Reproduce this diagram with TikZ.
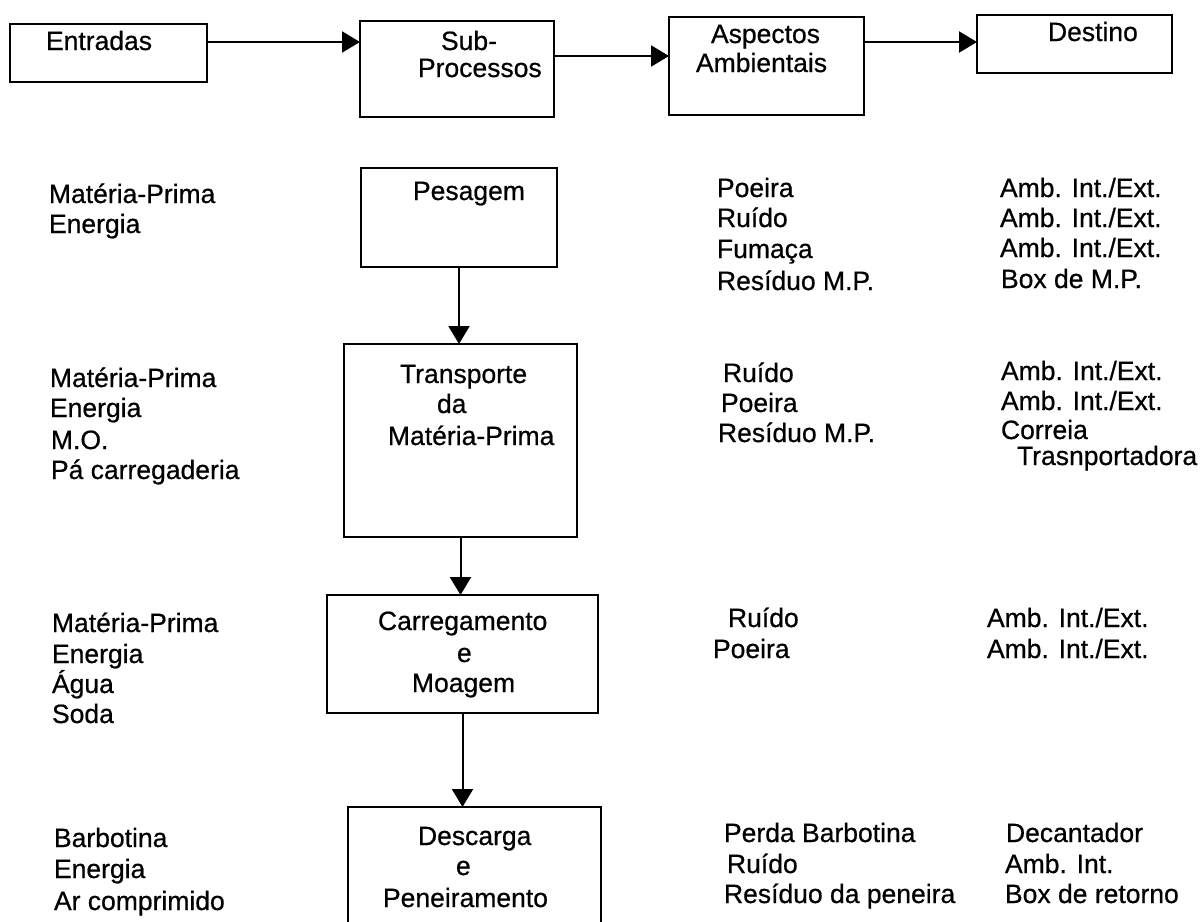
\documentclass[tikz,border=0pt]{standalone}
\usepackage{fontspec}
\setmainfont{Liberation Sans}
\newfontfamily\scanfont{Liberation Sans}[FakeBold=0.6]
\usetikzlibrary{arrows.meta,calc}
\begin{document}
\begin{tikzpicture}[x=0.5pt,y=-0.5pt,
  box/.style={draw,line width=1pt,inner sep=0pt,outer sep=0pt,anchor=north west},
  txt/.style={anchor=base west,inner sep=0pt,outer sep=0pt,font=\scanfont\fontsize{13.25pt}{15pt}\selectfont},
  arr/.style={line width=1pt,-{Triangle[length=9pt,width=10.5pt]}}]
\clip (0,0) rectangle (1204,921);

% header boxes
\node[box,minimum width=98.5pt,minimum height=29pt] (ent) at (10,24) {};
\node[box,minimum width=97pt,minimum height=48pt] (sub) at (360,21) {};
\node[box,minimum width=97.5pt,minimum height=49pt] (asp) at (669,17) {};
\node[box,minimum width=97.5pt,minimum height=29pt] (dst) at (977,15) {};

\node[txt] (hEnt) at (46,50) {Entradas};
\node[txt] (hSub1) at (441,50) {Sub-};
\node[txt] (hSub2) at (418,77) {Processos};
\node[txt] (hAsp1) at (711,43) {Aspectos};
\node[txt] (hAsp2) at (696,72) {Ambientais};
\node[txt] (hDst) at (1048,41) {Destino};

\draw[arr] ($(ent.east)+(0,-11)$) coordinate (c1) -- (c1 -| sub.west);
\draw[arr] ($(sub.east)+(0,-13)$) coordinate (c2) -- (c2 -| asp.west);
\draw[arr] ($(asp.east)+(0,-24)$) coordinate (c3) -- (c3 -| dst.west);

% process boxes
\node[box,minimum width=98pt,minimum height=49.5pt] (pes) at (361,168) {};
\node[box,minimum width=116.5pt,minimum height=96.5pt] (tra) at (344,344) {};
\node[box,minimum width=135.5pt,minimum height=59pt] (car) at (327,595) {};
\node[box,minimum width=126.5pt,minimum height=75pt] (des) at (348,807) {};

\draw[arr] (pes.south) -- (pes.south |- tra.north);
\draw[arr] (tra.south) -- (tra.south |- car.north);
\draw[arr] (car.south) -- (car.south |- des.north);

\node[txt] (pP) at (413,200) {Pesagem};
\node[txt] (pT1) at (400,383) {Transporte};
\node[txt] (pT2) at (437,413) {da};
\node[txt] (pT3) at (388,445) {Matéria-Prima};
\node[txt] (pC1) at (378,630) {Carregamento};
\node[txt] (pC2) at (457,662) {e};
\node[txt] (pC3) at (412,692) {Moagem};
\node[txt] (pD1) at (418,845) {Descarga};
\node[txt] (pD2) at (456,875) {e};
\node[txt] (pD3) at (383,907) {Peneiramento};

% inputs
\node[txt] (e11) at (49,203) {Matéria-Prima};
\node[txt] (e12) at (49,233) {Energia};
\node[txt] (e21) at (50,387) {Matéria-Prima};
\node[txt] (e22) at (50,417) {Energia};
\node[txt] (e23) at (51,449) {M.O.};
\node[txt] (e24) at (51,479) {Pá carregaderia};
\node[txt] (e31) at (52,632) {Matéria-Prima};
\node[txt] (e32) at (52,663) {Energia};
\node[txt] (e33) at (52,693) {Água};
\node[txt] (e34) at (52,723) {Soda};
\node[txt] (e41) at (54,847) {Barbotina};
\node[txt] (e42) at (54,878) {Energia};
\node[txt] (e43) at (54,910) {Ar comprimido};

% environmental aspects
\node[txt] (a11) at (717,197) {Poeira};
\node[txt] (a12) at (717,227) {Ruído};
\node[txt] (a13) at (717,258) {Fumaça};
\node[txt] (a14) at (717,290) {Resíduo M.P.};
\node[txt] (a21) at (723,382) {Ruído};
\node[txt] (a22) at (721,412) {Poeira};
\node[txt] (a23) at (718,442) {Resíduo M.P.};
\node[txt] (a31) at (728,627) {Ruído};
\node[txt] (a32) at (713,658) {Poeira};
\node[txt] (a41) at (724,842) {Perda Barbotina};
\node[txt] (a42) at (727,873) {Ruído};
\node[txt] (a43) at (724,903) {Resíduo da peneira};

% destinations
\node[txt] (d11) at (1000,197) {Amb. Int./Ext.};
\node[txt] (d12) at (1000,227) {Amb. Int./Ext.};
\node[txt] (d13) at (1000,257) {Amb. Int./Ext.};
\node[txt] (d14) at (1001,288) {Box de M.P.};
\node[txt] (d21) at (1001,380) {Amb. Int./Ext.};
\node[txt] (d22) at (1001,410) {Amb. Int./Ext.};
\node[txt] (d23) at (1001,439) {Correia};
\node[txt] (d24) at (1017,465) {Trasnportadora};
\node[txt] (d31) at (987,627) {Amb. Int./Ext.};
\node[txt] (d32) at (987,658) {Amb. Int./Ext.};
\node[txt] (d41) at (1006,842) {Decantador};
\node[txt] (d42) at (1005,873) {Amb. Int.};
\node[txt] (d43) at (1005,903) {Box de retorno};
\end{tikzpicture}
\end{document}
